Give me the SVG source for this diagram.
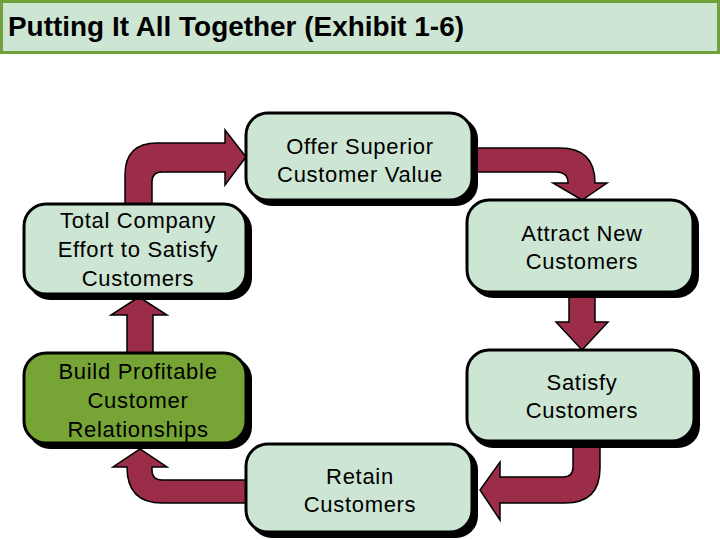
<svg xmlns="http://www.w3.org/2000/svg" width="720" height="540" viewBox="0 0 720 540">
<style>
.box{fill:#cde5d3;stroke:#000;stroke-width:3}
.green{fill:#76a535}
.sh{fill:#000}
.t{font-family:"Liberation Sans",Arial,sans-serif;font-size:22px;letter-spacing:0.7px;fill:#000;text-anchor:middle}
.arr{fill:#9b2d48;stroke:#000;stroke-width:1.5;stroke-linejoin:miter}
</style>
<rect width="720" height="540" fill="#fff"/>
<g id="title">
<rect x="1.5" y="1.5" width="717" height="51" fill="#cde5d3" stroke="#6fa03a" stroke-width="3"/>
<text x="8" y="36" font-family="'Liberation Sans',Arial,sans-serif" font-size="27" font-weight="bold" textLength="456" lengthAdjust="spacingAndGlyphs">Putting It All Together (Exhibit 1-6)</text>
</g>
<g id="connectors">
<path class="arr" d="M125,204 L125,175 Q125,143 157,143 L225,143 L225,130 L246,157 L225,185 L225,172 L162,172 Q152,172 152,182 L152,204 Z"/>
<path class="arr" d="M474,148 L560,148 Q595,148 595,183 L607,183 L582,200 L553,183 L568,183 Q568,172 556,172 L474,172 Z"/>
<path class="arr" d="M569,294 L595,294 L595,322 L608,322 L582,350 L556,322 L569,322 Z"/>
<path class="arr" d="M573,442 L573,467 Q573,477 563,477 L500,477 L500,462 L480,490 L500,520 L500,503 L565,503 Q600,503 600,468 L600,442 Z"/>
<path class="arr" d="M246,480 L162,480 Q152,480 152,470 L152,467 L167,467 L140,449 L113,467 L127,467 Q127,503 162,503 L246,503 Z"/>
<path class="arr" d="M127,353 L127,315 L111,315 L139,297 L167,315 L153,315 L153,353 Z"/>
</g>
<g id="offer">
<rect class="sh" x="250" y="117" width="228" height="89" rx="22"/>
<rect class="box" x="246" y="113" width="226" height="87" rx="22"/>
<text class="t" x="360" y="154">Offer Superior</text>
<text class="t" x="360" y="182">Customer Value</text>
</g>
<g id="attract">
<rect class="sh" x="471" y="204" width="228" height="94" rx="22"/>
<rect class="box" x="467" y="200" width="226" height="92" rx="22"/>
<text class="t" x="582" y="241">Attract New</text>
<text class="t" x="582" y="269">Customers</text>
</g>
<g id="total">
<rect class="sh" x="28" y="208" width="224" height="92" rx="22"/>
<rect class="box" x="24" y="204" width="222" height="90" rx="22"/>
<text class="t" x="138" y="228">Total Company</text>
<text class="t" x="138" y="257">Effort to Satisfy</text>
<text class="t" x="138" y="286">Customers</text>
</g>
<g id="build">
<rect class="sh" x="28" y="357" width="224" height="92" rx="22"/>
<rect class="box green" x="24" y="353" width="222" height="90" rx="22"/>
<text class="t" x="138" y="379">Build Profitable</text>
<text class="t" x="138" y="408">Customer</text>
<text class="t" x="138" y="437">Relationships</text>
</g>
<g id="satisfy">
<rect class="sh" x="471" y="354" width="229" height="94" rx="22"/>
<rect class="box" x="467" y="350" width="227" height="91" rx="22"/>
<text class="t" x="582" y="390">Satisfy</text>
<text class="t" x="582" y="418">Customers</text>
</g>
<g id="retain">
<rect class="sh" x="250" y="448" width="228" height="90" rx="22"/>
<rect class="box" x="246" y="444" width="226" height="88" rx="22"/>
<text class="t" x="360" y="484">Retain</text>
<text class="t" x="360" y="512">Customers</text>
</g>
</svg>
